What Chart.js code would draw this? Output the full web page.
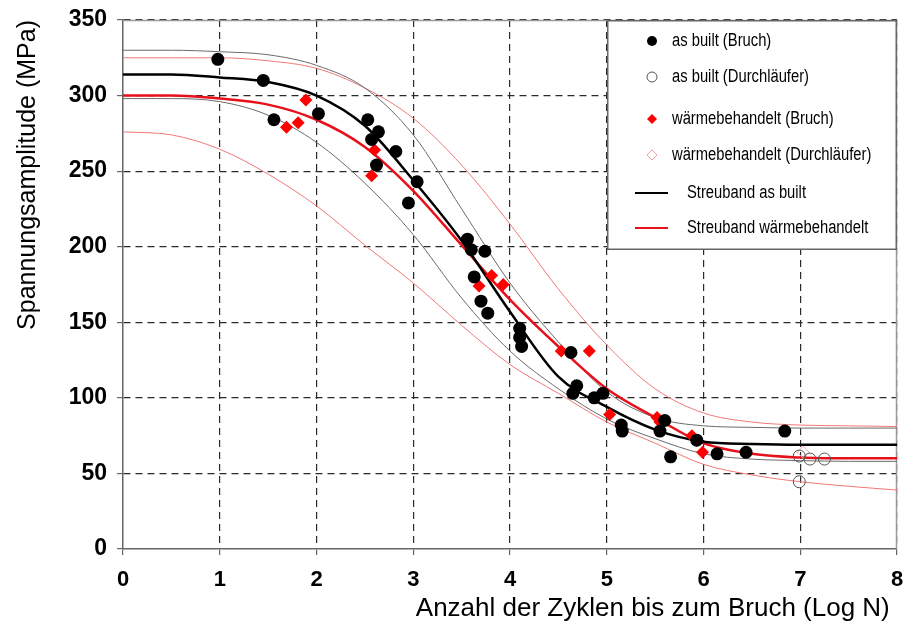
<!DOCTYPE html>
<html>
<head>
<meta charset="utf-8">
<script src="https://cdn.jsdelivr.net/npm/chart.js@4.4.1/dist/chart.umd.min.js"></script>
<style>
  html, body { margin: 0; padding: 0; background: #fff; }
  #wrap { width: 905px; height: 630px; }
</style>
</head>
<body>
<div id="wrap"><canvas id="chart" width="905" height="630"></canvas></div>
<script>
// Messpunkte [log N, Spannungsamplitude MPa]
const asBuiltBruch = [
  [0.98, 324], [1.45, 310], [1.56, 284], [2.02, 288], [2.53, 284], [2.64, 276],
  [2.57, 271], [2.62, 254], [2.82, 263], [3.04, 243], [2.95, 229], [3.56, 205],
  [3.60, 198], [3.74, 197], [3.63, 180], [3.70, 164], [3.77, 156], [4.10, 146],
  [4.10, 140], [4.12, 134], [4.63, 130], [4.69, 108], [4.65, 103], [4.87, 100],
  [4.96, 103], [5.15, 82], [5.16, 78], [5.60, 85], [5.55, 78], [5.66, 61],
  [5.93, 72], [6.14, 63], [6.44, 64], [6.84, 78]
];
const asBuiltDurchlaeufer = [[6.99, 61.5], [7.10, 59.5], [7.25, 59.5], [6.99, 44.5]];
const wbBruch = [
  [1.69, 279], [1.81, 282], [1.89, 297], [2.60, 264], [2.57, 247], [3.68, 174],
  [3.81, 181], [3.93, 175], [4.53, 131], [4.82, 131], [5.03, 89], [5.52, 87],
  [5.55, 84], [5.88, 75], [5.93, 72], [5.99, 64]
];
const wbDurchlaeufer = [[7.03, 64]];

const kurveX = [0, 0.5, 1, 1.5, 2, 2.5, 3, 3.5, 4, 4.5, 5, 5.5, 6, 6.5, 7, 7.5, 8];
const mittelAsBuilt = [314, 314, 312, 309, 300, 280, 244, 204, 157, 114, 94, 79, 71, 69.5, 69, 69, 69];
const obenAsBuilt   = [330, 330, 329, 327, 320, 305, 274, 225, 176, 137, 104, 87, 81.5, 80.5, 80, 80, 80];
const untenAsBuilt  = [298, 298, 296, 287, 269, 242, 208, 166, 131, 106, 86, 73, 63, 59.5, 58.5, 58, 58];
const mittelWb = [300, 300, 298, 294, 284, 266, 237, 201, 165, 134, 106, 87, 70, 63, 60.5, 60, 60];
const obenWb   = [325, 325, 325, 323, 318, 305, 285, 254, 215, 172, 135, 106, 90, 84, 82, 81.5, 81];
const untenWb  = [276, 274, 264.5, 248, 227, 201, 176, 148, 122, 103, 84, 70, 56, 49, 44.5, 41.5, 39];

const xTicks = [0, 1, 2, 3, 4, 5, 6, 7, 8];
const yTicks = [0, 50, 100, 150, 200, 250, 300, 350];

function punkte(liste) {
  return liste.map(p => ({ x: p[0], y: p[1] }));
}
function kurve(werte) {
  return kurveX.map((x, i) => ({ x: x, y: werte[i] }));
}
function linie(label, werte, farbe, breite) {
  return {
    label: label,
    data: kurve(werte),
    showLine: true,
    borderColor: farbe,
    borderWidth: breite,
    pointRadius: 0,
    cubicInterpolationMode: "monotone",
    order: 2
  };
}

const datasets = [
  { label: "as built (Bruch)", data: punkte(asBuiltBruch), pointStyle: "circle", pointRadius: 6.5,
    backgroundColor: "#000", borderColor: "#000", borderWidth: 0, order: 0, legende: true },
  { label: "as built (Durchläufer)", data: punkte(asBuiltDurchlaeufer), pointStyle: "circle", pointRadius: 6,
    backgroundColor: "rgba(0,0,0,0)", borderColor: "#555", borderWidth: 1, order: 0, legende: true },
  { label: "wärmebehandelt (Bruch)", data: punkte(wbBruch), pointStyle: "rectRot", pointRadius: 6.5,
    backgroundColor: "#ff0000", borderColor: "#ff0000", borderWidth: 0, order: 0, legende: true },
  { label: "wärmebehandelt (Durchläufer)", data: punkte(wbDurchlaeufer), pointStyle: "rectRot", pointRadius: 6,
    backgroundColor: "rgba(0,0,0,0)", borderColor: "#f2a0a0", borderWidth: 1, order: 0, legende: true },
  Object.assign(linie("Streuband as built", mittelAsBuilt, "#000", 2.5), { legende: true }),
  Object.assign(linie("Streuband wärmebehandelt", mittelWb, "#e8101a", 2.5), { legende: true }),
  linie("", obenAsBuilt, "#6a6a6a", 1),
  linie("", untenAsBuilt, "#6a6a6a", 1),
  linie("", obenWb, "#f07878", 1),
  linie("", untenWb, "#f07878", 1)
];

// Rahmen um die Zeichenflaeche
const rahmenPlugin = {
  id: "rahmen",
  beforeDatasetsDraw(chart) {
    const a = chart.chartArea;
    const ctx = chart.ctx;
    ctx.save();
    ctx.strokeStyle = "#9a9a9a";
    ctx.lineWidth = 1.5;
    ctx.beginPath();
    ctx.moveTo(a.left, a.top + 0.5);
    ctx.lineTo(a.right - 0.5, a.top + 0.5);
    ctx.lineTo(a.right - 0.5, a.bottom);
    ctx.stroke();
    ctx.restore();
  }
};

// schmale Schrift nachbilden
function schmalerText(ctx, text, x, y) {
  ctx.save();
  ctx.translate(x, y);
  ctx.scale(0.82, 1);
  ctx.fillText(text, 0, 0);
  ctx.restore();
}

// Legende als Kasten oben rechts
const legendePlugin = {
  id: "legende",
  afterDatasetsDraw(chart) {
    const ctx = chart.ctx;
    const a = chart.chartArea;
    const breite = 290, hoehe = 230;
    const x0 = a.right - breite, y0 = a.top;
    const zeilenY = [21, 57, 99, 135, 173, 208];
    ctx.save();
    ctx.fillStyle = "#fff";
    ctx.fillRect(x0, y0, breite, hoehe);
    ctx.strokeStyle = "#666";
    ctx.lineWidth = 1.5;
    ctx.strokeRect(x0 + 0.75, y0 + 0.75, breite - 1.5, hoehe - 1.5);
    ctx.font = "18px 'Liberation Sans', Arial, sans-serif";
    ctx.textBaseline = "middle";
    ctx.fillStyle = "#000";

    const eintraege = chart.data.datasets.filter(d => d.legende);
    eintraege.forEach((d, i) => {
      const y = y0 + zeilenY[i];
      if (d.showLine) {
        ctx.strokeStyle = d.borderColor;
        ctx.lineWidth = 2;
        ctx.beginPath();
        ctx.moveTo(x0 + 28, y);
        ctx.lineTo(x0 + 61, y);
        ctx.stroke();
        ctx.fillStyle = "#000";
        schmalerText(ctx, d.label, x0 + 80, y);
        return;
      }
      const mx = x0 + 45, r = 5;
      ctx.beginPath();
      if (d.pointStyle === "circle") {
        ctx.arc(mx, y, r, 0, Math.PI * 2);
      } else {
        ctx.moveTo(mx - r, y);
        ctx.lineTo(mx, y - r);
        ctx.lineTo(mx + r, y);
        ctx.lineTo(mx, y + r);
        ctx.closePath();
      }
      if (d.borderWidth > 0) {
        ctx.strokeStyle = d.borderColor;
        ctx.lineWidth = 1;
        ctx.stroke();
      } else {
        ctx.fillStyle = d.backgroundColor;
        ctx.fill();
      }
      ctx.fillStyle = "#000";
      schmalerText(ctx, d.label, x0 + 65, y);
    });
    ctx.restore();
  }
};

const gitter = {
  color: ctx => (ctx.tick && (ctx.tick.value === 0)) ? "rgba(0,0,0,0)" : "#2a2a2a",
  lineWidth: 1.2,
  tickColor: "#666",
  tickLength: 6,
  tickBorderDash: []
};

new Chart(document.getElementById("chart"), {
  type: "scatter",
  data: { datasets: datasets },
  options: {
    responsive: false,
    animation: false,
    layout: { padding: { top: 20, right: 8, bottom: 0, left: 0 } },
    plugins: {
      legend: { display: false },
      tooltip: { enabled: false }
    },
    scales: {
      x: {
        type: "linear",
        min: 0,
        max: 8,
        afterBuildTicks: s => { s.ticks = xTicks.map(v => ({ value: v })); },
        afterFit: s => { s.height = 81; s.paddingLeft = 0; s.paddingRight = 0; },
        grid: gitter,
        border: { display: true, color: "#666", width: 1.5, dash: [7, 5] },
        ticks: {
          color: "#000",
          padding: 12,
          font: { family: "'Liberation Sans', Arial", size: 22, weight: "bold" }
        },
        title: {
          display: true,
          text: "Anzahl der Zyklen bis zum Bruch (Log N) ",
          align: "end",
          color: "#000",
          padding: { top: 0, bottom: 6 },
          font: { family: "'Liberation Sans', Arial", size: 26 }
        }
      },
      y: {
        type: "linear",
        min: 0,
        max: 350,
        afterBuildTicks: s => { s.ticks = yTicks.map(v => ({ value: v })); },
        afterFit: s => { s.width = 123; s.paddingTop = 0; s.paddingBottom = 0; },
        grid: gitter,
        border: { display: true, color: "#666", width: 1.5, dash: [7, 5] },
        ticks: {
          color: "#000",
          padding: 10,
          font: { family: "'Liberation Sans', Arial", size: 23, weight: "bold" }
        },
        title: {
          display: true,
          text: "Spannungsamplitude (MPa)",
          align: "end",
          color: "#000",
          padding: { top: 13, bottom: 0 },
          font: { family: "'Liberation Sans', Arial", size: 25 }
        }
      }
    }
  },
  plugins: [rahmenPlugin, legendePlugin]
});
</script>
</body>
</html>
